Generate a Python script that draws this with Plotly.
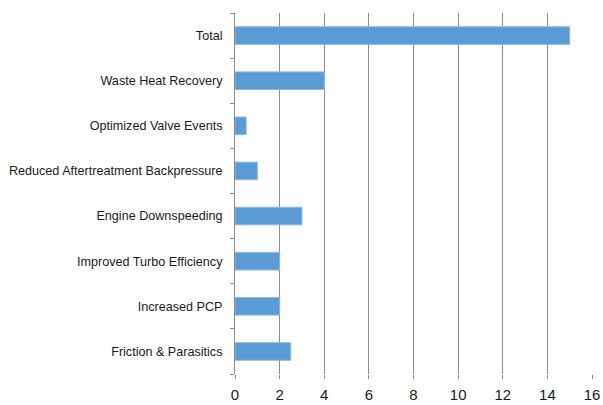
import plotly.graph_objects as go

categories = [
    "Friction & Parasitics",
    "Increased PCP",
    "Improved Turbo Efficiency",
    "Engine Downspeeding",
    "Reduced Aftertreatment Backpressure",
    "Optimized Valve Events",
    "Waste Heat Recovery",
    "Total",
]
values = [2.5, 2, 2, 3, 1, 0.5, 4, 15]
x_ticks = [0, 2, 4, 6, 8, 10, 12, 14, 16]

fig = go.Figure(
    go.Bar(
        x=values,
        y=categories,
        orientation="h",
        width=0.39,
        marker=dict(color="#5B9BD5", line=dict(color="#8DB7E2", width=1)),
    )
)

fig.update_layout(
    width=603,
    height=405,
    margin=dict(l=235, r=11, t=13, b=31, autoexpand=False),
    paper_bgcolor="white",
    plot_bgcolor="white",
    showlegend=False,
    font=dict(family="Liberation Sans, Arial, sans-serif", color="#1a1a1a"),
)

fig.update_xaxes(
    range=[0, 16],
    tickvals=x_ticks,
    showgrid=True,
    gridcolor="#8c8c8c",
    gridwidth=1,
    zeroline=False,
    showline=False,
    ticks="outside",
    ticklen=4,
    tickcolor="#8c8c8c",
    tickfont=dict(size=15),
    ticklabelstandoff=3,
    automargin=False,
)

fig.update_yaxes(
    type="category",
    categoryorder="array",
    categoryarray=categories,
    showgrid=False,
    showline=True,
    linecolor="#8c8c8c",
    linewidth=1,
    ticks="outside",
    tickson="boundaries",
    ticklen=4,
    tickcolor="#8c8c8c",
    tickfont=dict(size=12.6),
    ticklabelstandoff=9,
    automargin=False,
)

fig.write_html("out.html")
